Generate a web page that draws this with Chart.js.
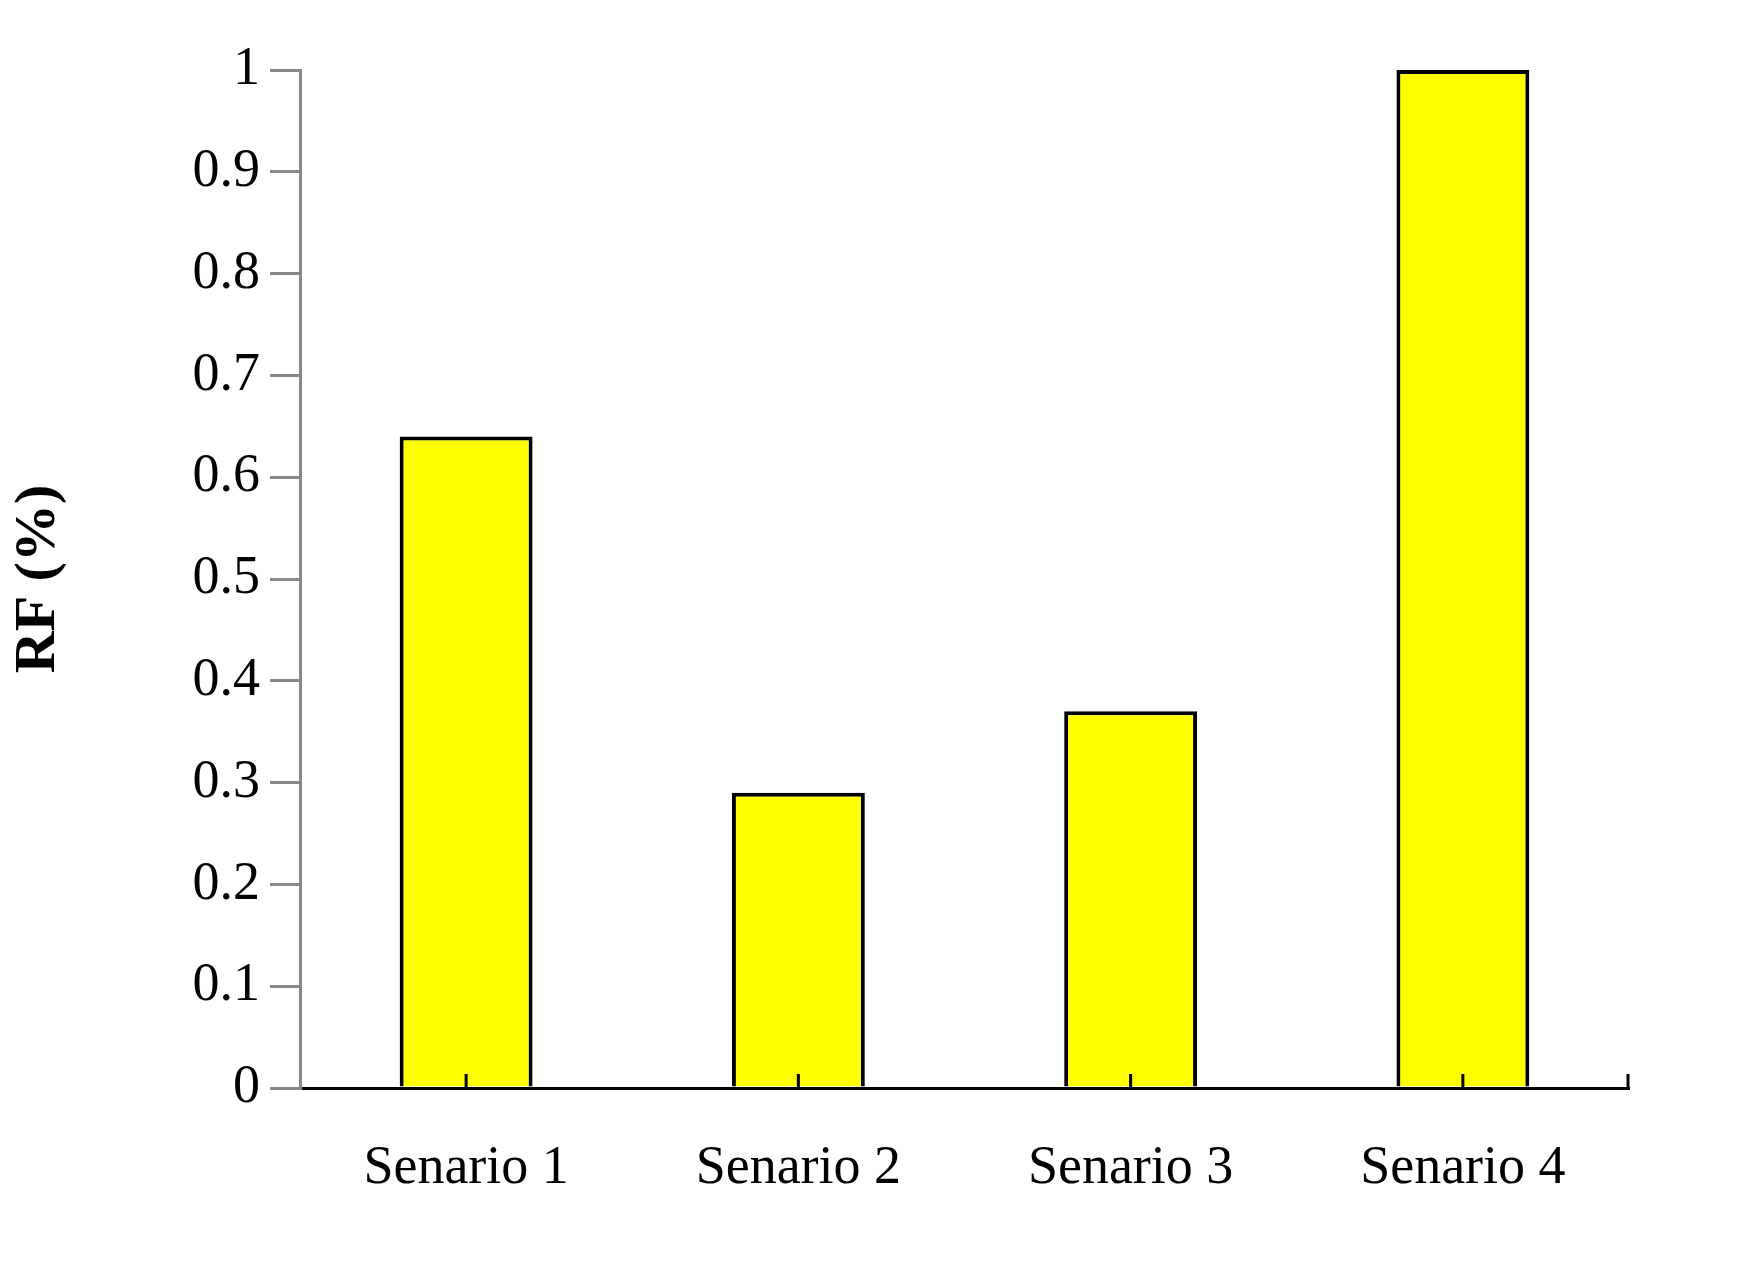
<!DOCTYPE html>
<html><head><script src="https://cdn.jsdelivr.net/npm/chart.js"></script>
<style>body{margin:0;background:#fff}#w{width:1749px;height:1265px}</style></head>
<body><div id="w"><canvas id="c"></canvas></div>
<script>
const categories = ["Senario 1","Senario 2","Senario 3","Senario 4"];
const values = [0.64, 0.29, 0.37, 1.0];
const innerTicks = {
  id:'innerTicks',
  afterDatasetsDraw(chart){
    const x = chart.scales.x, ctx = chart.ctx, b = chart.chartArea.bottom;
    ctx.save(); ctx.strokeStyle='#000'; ctx.lineWidth=3;
    const pts = x.ticks.map((t,i)=>x.getPixelForTick(i));
    pts.push(chart.chartArea.right-1);
    pts.forEach(p=>{ctx.beginPath();ctx.moveTo(p,b);ctx.lineTo(p,b-14);ctx.stroke();});
    ctx.restore();
  }
};
new Chart(document.getElementById('c'),{
  type:'bar',
  data:{labels:categories,datasets:[{data:values,backgroundColor:'#ffff00',borderColor:'#000',borderWidth:4,barPercentage:0.4,categoryPercentage:1}]},
  plugins:[innerTicks],
  options:{responsive:true,maintainAspectRatio:false,animation:false,
    layout:{padding:{top:70,right:120,bottom:0,left:0}},
    plugins:{legend:{display:false},tooltip:{enabled:false}},
    scales:{
      x:{grid:{display:false},border:{color:'#000',width:3},
        ticks:{color:'#000',padding:40,font:{family:'Liberation Serif',size:54}},
        afterFit(s){s.height=177;}},
      y:{min:0,max:1,grid:{drawOnChartArea:false,color:'#888',lineWidth:3,tickLength:30},
        border:{color:'#888',width:3},
        ticks:{stepSize:0.1,color:'#000',padding:10,font:{family:'Liberation Serif',size:54},
          callback:v=>String(Math.round(v*10)/10)},
        title:{display:true,text:'RF (%)',color:'#000',font:{family:'Liberation Serif',size:58,weight:'bold'}},
        afterFit(s){s.width=300;}}
    }}
});
</script></body></html>
